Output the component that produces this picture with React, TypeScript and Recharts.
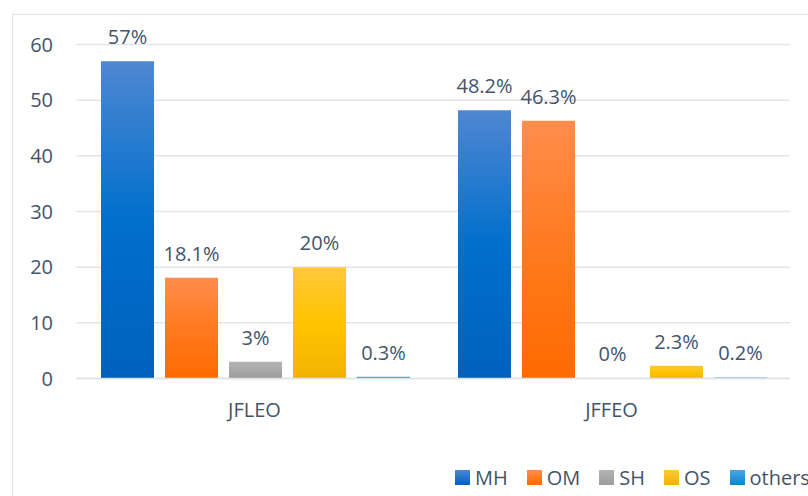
import { BarChart, Bar, XAxis, YAxis, CartesianGrid, Legend, LabelList } from "recharts";

const categories: Array<string> = ["JFLEO", "JFFEO"];
const mhValues: Array<number> = [57, 48.2];
const omValues: Array<number> = [18.1, 46.3];
const shValues: Array<number> = [3, 0];
const osValues: Array<number> = [20, 2.3];
const otherValues: Array<number> = [0.3, 0.2];
const yTicks: Array<number> = [0, 10, 20, 30, 40, 50, 60];

const series = [
  { key: "MH", values: mhValues, top: "#4f87d2", mid: "#0070cc", bottom: "#0061bd" },
  { key: "OM", values: omValues, top: "#ff8d4c", mid: "#ff7a1f", bottom: "#ff6a00" },
  { key: "SH", values: shValues, top: "#b3b3b3", mid: "#a8a8a8", bottom: "#9c9c9c" },
  { key: "OS", values: osValues, top: "#ffc83a", mid: "#ffc400", bottom: "#f2b300" },
  { key: "others", values: otherValues, top: "#4aa6e2", mid: "#1f95da", bottom: "#0a86cf" },
];

const data = categories.map((name, i) => {
  const row: Record<string, string | number> = { name };
  series.forEach((s) => {
    row[s.key] = s.values[i];
  });
  return row;
});

const textColor = "#44546a";
const font = "'Open Sans', sans-serif";

// own label so a 0 value still gets its "0%"
const renderValueLabel = (props: any) => {
  const { x, y, width, height, value } = props;
  const top = Math.min(Number(y), Number(y) + Number(height || 0));
  return (
    <text
      x={Number(x) + Number(width) / 2}
      y={top - 17}
      textAnchor="middle"
      fill={textColor}
      fontSize={20}
      fontFamily={font}
    >
      {`${value}%`}
    </text>
  );
};

// legend keeps the series order (recharts sorts its payload by name otherwise)
const renderLegend = () => (
  <div style={{ display: "flex", alignItems: "center", fontFamily: font, fontSize: 20, color: textColor, whiteSpace: "nowrap" }}>
    {series.map((s) => (
      <div key={s.key} style={{ display: "flex", alignItems: "center", marginRight: 19 }}>
        <span
          style={{
            display: "inline-block",
            width: 15,
            height: 15,
            marginRight: 5,
            background: `linear-gradient(to bottom, ${s.top}, ${s.bottom})`,
          }}
        />
        <span>{s.key}</span>
      </div>
    ))}
  </div>
);

export default function App() {
  return (
    <div style={{ position: "absolute", left: 0, top: 0, width: 808, height: 496, overflow: "hidden", background: "#fff" }}>
      <div
        style={{
          position: "absolute",
          left: 12,
          top: 14,
          width: 900,
          height: 600,
          border: "1.5px solid #dfe4ea",
        }}
      />
      <div style={{ position: "absolute", left: 0, top: 0 }}>
        <BarChart
          width={840}
          height={496}
          data={data}
          margin={{ top: 44.5, right: 50, left: 0, bottom: 87.5 }}
          barCategoryGap={25}
          barGap={11}
        >
          <defs>
            {series.map((s) => (
              <linearGradient key={s.key} id={"grad-" + s.key} x1="0" y1="0" x2="0" y2="1">
                <stop offset="0%" stopColor={s.top} />
                <stop offset="50%" stopColor={s.mid} />
                <stop offset="100%" stopColor={s.bottom} />
              </linearGradient>
            ))}
          </defs>
          <CartesianGrid vertical={false} stroke="#e1e6ec" strokeWidth={1.5} />
          <XAxis
            dataKey="name"
            height={30}
            tickLine={false}
            tickSize={0}
            tickMargin={24}
            axisLine={{ stroke: "#dde2e8", strokeWidth: 1.5 }}
            tick={{ fill: textColor, fontSize: 20, fontFamily: font }}
          />
          <YAxis
            width={76}
            domain={[0, 60]}
            ticks={yTicks}
            tickLine={false}
            tickSize={0}
            tickMargin={23}
            axisLine={false}
            tick={{ fill: textColor, fontSize: 20, fontFamily: font }}
          />
          <Legend
            layout="horizontal"
            verticalAlign="middle"
            align="center"
            content={renderLegend}
            wrapperStyle={{ left: 455, top: 464, width: 420, height: 28 }}
          />
          {series.map((s) => (
            <Bar
              key={s.key}
              dataKey={s.key}
              name={s.key}
              fill={`url(#grad-${s.key})`}
              minPointSize={0.01}
              isAnimationActive={false}
            >
              <LabelList dataKey={s.key} content={renderValueLabel} />
            </Bar>
          ))}
        </BarChart>
      </div>
    </div>
  );
}
